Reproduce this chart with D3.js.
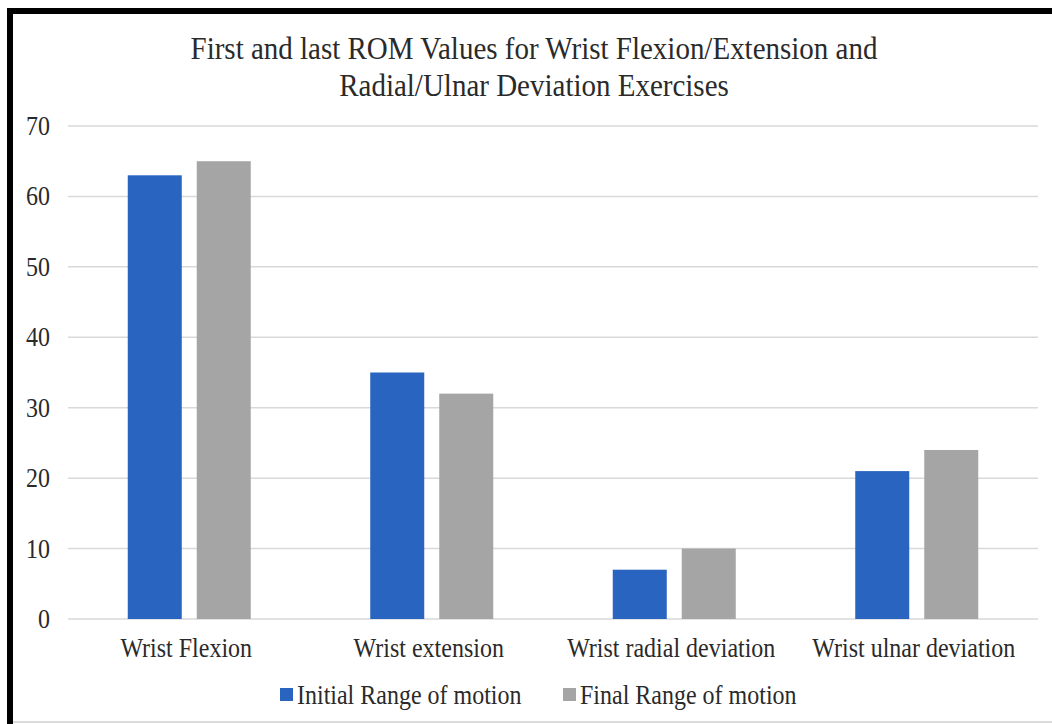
<!DOCTYPE html>
<html>
<head>
<meta charset="utf-8">
<script src="https://cdn.jsdelivr.net/npm/d3@7"></script>
<style>
  html, body { margin: 0; padding: 0; background: #fff; }
  svg { display: block; }
  text {
    font-family: "Liberation Serif", "Times New Roman", serif;
    fill: #2a2a2a;
    transform-box: fill-box;
    transform-origin: center;
    transform: scaleY(1.1);
  }
</style>
</head>
<body>
<svg id="chart" width="1052" height="724"></svg>
<script>
// Range-of-motion measurements (degrees) per wrist exercise
const categories = ["Wrist Flexion", "Wrist extension", "Wrist radial deviation", "Wrist ulnar deviation"];
const seriesNames = ["Initial Range of motion", "Final Range of motion"];
const initialValues = [63, 35, 7, 21];
const finalValues = [65, 32, 10, 24];
const yTicks = [0, 10, 20, 30, 40, 50, 60, 70];
const titleLines = ["First and last ROM Values for Wrist Flexion/Extension and", "Radial/Ulnar Deviation Exercises"];

const colors = { "Initial Range of motion": "#2964c0", "Final Range of motion": "#a5a5a5" };

const rows = categories.map((c, i) => ({
  category: c,
  values: [
    { series: seriesNames[0], value: initialValues[i] },
    { series: seriesNames[1], value: finalValues[i] }
  ]
}));

const svg = d3.select("#chart");
const W = 1052, H = 724;
const plot = { left: 68, right: 1038, top: 126, bottom: 619 };

// Frame: heavy black top/left edges, faint bottom rule
svg.append("rect").attr("x", 7).attr("y", 8).attr("width", W - 7).attr("height", 6).attr("fill", "#000");
svg.append("rect").attr("x", 7).attr("y", 8).attr("width", 6).attr("height", H - 8).attr("fill", "#000");
svg.append("line").attr("x1", 13).attr("x2", W).attr("y1", 722).attr("y2", 722)
  .attr("stroke", "#cfcfcf").attr("stroke-width", 1.5);

// Title
svg.append("g").selectAll("text").data(titleLines).join("text")
  .attr("x", 534).attr("y", (d, i) => 58 + i * 37)
  .attr("text-anchor", "middle")
  .attr("font-size", 29)
  .text(d => d);

const y = d3.scaleLinear().domain([0, 70]).range([plot.bottom, plot.top]);
const x0 = d3.scaleBand().domain(categories).range([plot.left, plot.right]).padding(0);
const groupWidth = 123;
const x1 = d3.scaleBand().domain(seriesNames).range([0, groupWidth]).paddingInner(15 / 69).paddingOuter(0);
const groupOffset = (x0.bandwidth() - groupWidth) / 2;

// Gridlines
svg.append("g").selectAll("line").data(yTicks).join("line")
  .attr("x1", plot.left).attr("x2", plot.right)
  .attr("y1", d => y(d)).attr("y2", d => y(d))
  .attr("stroke", "#d9d9d9").attr("stroke-width", 1.5);

// Y axis labels
const yAxis = d3.axisLeft(y).tickValues(yTicks).tickSize(0).tickPadding(0);
const yg = svg.append("g").attr("transform", `translate(50,0)`).call(yAxis);
yg.select(".domain").remove();
yg.selectAll("text").attr("font-size", 24).attr("fill", "#2a2a2a")
  .attr("font-family", "Liberation Serif, Times New Roman, serif");

// Bars
const groups = svg.append("g").selectAll("g").data(rows).join("g")
  .attr("transform", d => `translate(${x0(d.category) + groupOffset},0)`);
groups.selectAll("rect").data(d => d.values).join("rect")
  .attr("x", d => x1(d.series))
  .attr("width", x1.bandwidth())
  .attr("y", d => y(d.value))
  .attr("height", d => y(0) - y(d.value))
  .attr("fill", d => colors[d.series]);

// Category axis labels
const xAxis = d3.axisBottom(x0).tickSize(0).tickPadding(0);
const xg = svg.append("g").attr("transform", `translate(-3,${plot.bottom + 20})`).call(xAxis);
xg.select(".domain").remove();
xg.selectAll("text").attr("font-size", 24).attr("fill", "#2a2a2a")
  .attr("font-family", "Liberation Serif, Times New Roman, serif");

// Legend
const legend = svg.append("g").attr("transform", "translate(280,695)");
const legendX = [0, 283];
const items = legend.selectAll("g").data(seriesNames).join("g")
  .attr("transform", (d, i) => `translate(${legendX[i]},0)`);
items.append("rect").attr("x", 0).attr("y", -7).attr("width", 13).attr("height", 13)
  .attr("fill", d => colors[d]);
items.append("text").attr("x", 17).attr("y", 8).attr("font-size", 24).text(d => d);
</script>
</body>
</html>
